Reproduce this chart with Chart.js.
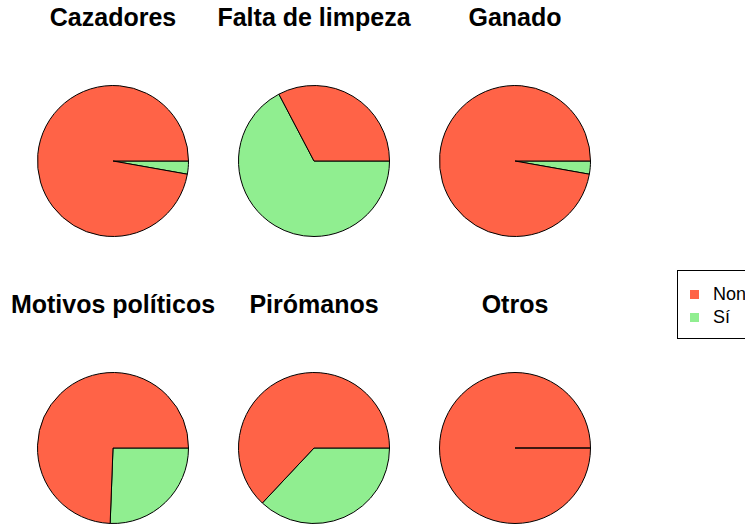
<!DOCTYPE html>
<html>
<head>
<meta charset="utf-8">
<script src="https://cdn.jsdelivr.net/npm/chart.js@4"></script>
<style>
  body { margin: 0; background: #fff; font-family: "Liberation Sans", Arial, sans-serif; }
  #wrap { position: relative; width: 745px; height: 525px; overflow: hidden; }
  .title { position: absolute; width: 260px; text-align: center; font-weight: bold; font-size: 25px; line-height: 25px; }
  canvas { position: absolute; }
  #legend { position: absolute; left: 677px; top: 270px; width: 90px; height: 69px; border: 1px solid #000; box-sizing: border-box; font-size: 18px; }
  .item { position: absolute; left: 12px; }
  .sw { position: absolute; width: 9px; height: 9px; top: 6px; }
  .lab { position: absolute; line-height: 20px; }
</style>
</head>
<body>
<div id="wrap"></div>
<script>
// cada panel: porcentaje de respuestas "Non" / "Sí"
const causes = ['Cazadores', 'Falta de limpeza', 'Ganado', 'Motivos políticos', 'Pirómanos', 'Otros'];
const noValues = [97.2, 32.7, 97.2, 74.4, 63.0, 100];
const siValues = [2.8, 67.3, 2.8, 25.6, 37.0, 0];
const answers = ['Non', 'Sí'];
const colors = ['#FF6347', '#90EE90'];

const centersX = [113, 314, 515];
const centersY = [161, 448];
const titleTops = [5, 292];
const size = 152;

const wrap = document.getElementById('wrap');

causes.forEach((name, i) => {
  const col = i % 3, row = Math.floor(i / 3);

  const t = document.createElement('div');
  t.className = 'title';
  t.textContent = name;
  t.style.left = (centersX[col] - 130) + 'px';
  t.style.top = titleTops[row] + 'px';
  wrap.appendChild(t);

  const cv = document.createElement('canvas');
  cv.width = size; cv.height = size;
  cv.style.left = (centersX[col] - size / 2) + 'px';
  cv.style.top = (centersY[row] - size / 2) + 'px';
  wrap.appendChild(cv);

  // R draws counterclockwise from 3 o'clock; Chart.js goes clockwise,
  // so reverse the order and start at 90 degrees
  new Chart(cv.getContext('2d'), {
    type: 'pie',
    data: {
      labels: [answers[1], answers[0]],
      datasets: [{
        data: [siValues[i], noValues[i]],
        backgroundColor: [colors[1], colors[0]],
        borderColor: '#000',
        borderWidth: 1
      }]
    },
    options: {
      responsive: false,
      animation: false,
      rotation: 90,
      layout: { padding: 0 },
      plugins: { legend: { display: false }, tooltip: { enabled: false } }
    }
  });
});

// legend box on the right (clipped by the page edge like the original)
const lg = document.createElement('div');
lg.id = 'legend';
answers.forEach((a, k) => {
  const it = document.createElement('div');
  it.className = 'item';
  it.style.top = (13 + k * 23) + 'px';
  it.innerHTML = '<div class="sw" style="background:' + colors[k] + '"></div>';
  const lab = document.createElement('div');
  lab.className = 'lab';
  lab.style.left = '23px';
  lab.textContent = a;
  it.appendChild(lab);
  lg.appendChild(it);
});
wrap.appendChild(lg);
</script>
</body>
</html>
